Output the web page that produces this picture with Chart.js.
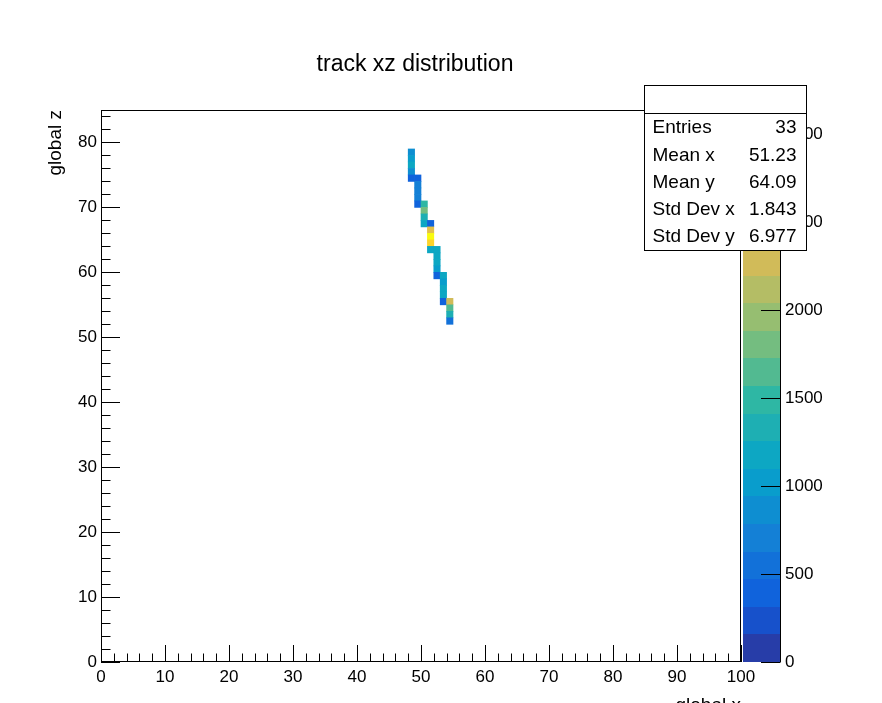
<!DOCTYPE html>
<html>
<head>
<meta charset="utf-8">
<title>track xz distribution</title>
<script src="https://cdn.jsdelivr.net/npm/chart.js@4.4.1/dist/chart.umd.min.js"></script>
<style>
  html, body { margin: 0; padding: 0; background: #fff; }
  canvas { display: block; }
</style>
</head>
<body>
<canvas id="chart" width="882" height="703"></canvas>
<script>
// ===============================================
// data: filled bins (lower edges, bin width 1) and their contents
// ===============================================
const cellX = [48, 48, 48, 48, 48,
               49, 49, 49, 49, 49,
               50, 50, 50, 50,
               51, 51, 51, 51, 51,
               52, 52, 52, 52, 52,
               53, 53, 53, 53, 53,
               54, 54, 54, 54];
const cellZ = [78, 77, 76, 75, 74,
               74, 73, 72, 71, 70,
               70, 69, 68, 67,
               67, 66, 65, 64, 63,
               63, 62, 61, 60, 59,
               59, 58, 57, 56, 55,
               55, 54, 53, 52];
const cellContent = [850, 1000, 1250, 800, 400,
                     420, 650, 700, 650, 380,
                     1550, 1850, 1300, 1150,
                     450, 2450, 3140, 2700, 1150,
                     1200, 1100, 1100, 1050, 400,
                     1100, 1050, 1250, 1100, 400,
                     2300, 1600, 1350, 500];

const xRange = [0, 100];
const zRange = [0, 85];
const colorMax = 3140;
const nContours = 20;
const xTickStep = 10;
const zTickStep = 10;
const colorTicks = [0, 500, 1000, 1500, 2000, 2500, 3000];

const statLabels = ['Entries', 'Mean x', 'Mean y', 'Std Dev x', 'Std Dev y'];
const statValues = ['33', '51.23', '64.09', '1.843', '6.977'];

// kBird palette stops
const birdStops = [0.0, 0.125, 0.25, 0.375, 0.5, 0.625, 0.75, 0.875, 1.0];
const birdRed   = [0.2082, 0.0592, 0.0780, 0.0232, 0.1802, 0.5301, 0.8186, 0.9956, 0.9764];
const birdGreen = [0.1664, 0.3599, 0.5041, 0.6419, 0.7178, 0.7492, 0.7328, 0.7862, 0.9832];
const birdBlue  = [0.5293, 0.8684, 0.8385, 0.7914, 0.6425, 0.4662, 0.3499, 0.1968, 0.0539];

const FONT = "'Liberation Sans', Arial, sans-serif";

function birdColor(t) {
  t = Math.min(1, Math.max(0, t));
  let i = 0;
  while (i < birdStops.length - 2 && t > birdStops[i + 1]) i++;
  const f = (t - birdStops[i]) / (birdStops[i + 1] - birdStops[i]);
  const c = k => Math.round(255 * (k[i] + (k[i + 1] - k[i]) * f));
  return `rgb(${c(birdRed)},${c(birdGreen)},${c(birdBlue)})`;
}
function bandColor(band) {
  const idx = Math.min(254, Math.floor((band + 0.99) * 255 / nContours));
  return birdColor(idx / 254);
}
function contentColor(v) {
  const band = Math.min(nContours - 1, Math.floor(0.01 + v * nContours / colorMax));
  return bandColor(band);
}

// ===============================================
// frame, inward ticks, colour bar and stats box
// ===============================================
const rootFrame = {
  id: 'rootFrame',
  afterDraw(chart) {
    const { ctx, chartArea: a, scales } = chart;
    const xs = scales.x, ys = scales.y, cs = scales.c;
    ctx.save();

    // colour bar
    const step = colorMax / nContours;
    for (let i = 0; i < nContours; i++) {
      const top = Math.round(cs.getPixelForValue((i + 1) * step));
      const bot = Math.round(cs.getPixelForValue(i * step));
      ctx.fillStyle = bandColor(i);
      ctx.fillRect(a.right + 2, top, 37, bot - top);
    }
    ctx.strokeStyle = '#000';
    ctx.lineWidth = 1;
    ctx.beginPath();
    ctx.moveTo(a.right + 39.5, a.top);
    ctx.lineTo(a.right + 39.5, a.bottom);
    colorTicks.forEach(v => {
      const py = Math.round(cs.getPixelForValue(v)) + 0.5;
      ctx.moveTo(a.right + 39.5, py);
      ctx.lineTo(a.right + 20, py);
    });
    ctx.stroke();

    // frame
    ctx.strokeRect(a.left + 0.5, a.top + 0.5, a.width - 1, a.height - 1);

    // ticks pointing into the plot
    ctx.beginPath();
    for (let v = xRange[0]; v <= xRange[1]; v += xTickStep / 5) {
      const px = Math.round(xs.getPixelForValue(v)) + 0.5;
      const len = v % xTickStep === 0 ? 17 : 8.5;
      ctx.moveTo(px, a.bottom);
      ctx.lineTo(px, a.bottom - len);
    }
    for (let v = zRange[0]; v <= zRange[1]; v += zTickStep / 5) {
      const py = Math.round(ys.getPixelForValue(v)) + 0.5;
      const len = v % zTickStep === 0 ? 19 : 9.5;
      ctx.moveTo(a.left, py);
      ctx.lineTo(a.left + len, py);
    }
    ctx.stroke();

    // stats box
    const bx = 644.5, by = 85.5, bw = 162, bh = 165;
    ctx.fillStyle = '#fff';
    ctx.fillRect(bx, by, bw, bh);
    ctx.strokeRect(bx, by, bw, bh);
    ctx.beginPath();
    ctx.moveTo(bx, by + 28);
    ctx.lineTo(bx + bw, by + 28);
    ctx.stroke();
    ctx.fillStyle = '#000';
    ctx.font = '19px ' + FONT;
    ctx.textBaseline = 'middle';
    statLabels.forEach((lab, i) => {
      const ty = 128 + i * 27.3;
      ctx.textAlign = 'left';
      ctx.fillText(lab, bx + 8, ty);
      ctx.textAlign = 'right';
      ctx.fillText(statValues[i], bx + bw - 10, ty);
    });
    ctx.restore();
  }
};

document.addEventListener('DOMContentLoaded', () => {
  const ctx = document.getElementById('chart');

  const cells = cellX.map((x, i) => ({ x: x + 0.5, y: [cellZ[i], cellZ[i] + 1] }));
  const tickFont = { family: FONT, size: 17 };

  new Chart(ctx, {
    type: 'bar',
    data: {
      datasets: [{
        label: 'track xz',
        data: cells,
        backgroundColor: c => contentColor(cellContent[c.dataIndex]),
        borderWidth: 0,
        barPercentage: 1,
        categoryPercentage: 1,
        grouped: false
      }]
    },
    options: {
      responsive: false,
      animation: false,
      layout: { padding: { left: 0, right: 52, top: 0, bottom: 0 } },
      plugins: {
        legend: { display: false },
        tooltip: { enabled: false },
        title: {
          display: true,
          text: 'track xz distribution',
          color: '#000',
          font: { family: FONT, size: 23, weight: 'normal', lineHeight: 1 },
          padding: { top: 53.5, bottom: 33.5 }
        }
      },
      scales: {
        x: {
          type: 'linear',
          min: xRange[0], max: xRange[1],
          offset: false,
          grid: { display: false, offset: false, drawTicks: false },
          border: { display: false },
          ticks: { stepSize: xTickStep, padding: 5, color: '#000', font: tickFont, maxRotation: 0, autoSkip: false },
          title: {
            display: true, text: 'global x', align: 'end', color: '#000',
            font: { family: FONT, size: 19 }, padding: { top: 0, bottom: -14 }
          },
          afterFit: s => { s.height = 41; }
        },
        y: {
          type: 'linear',
          position: 'left',
          min: zRange[0], max: zRange[1],
          grid: { display: false, drawTicks: false },
          border: { display: false },
          ticks: { stepSize: zTickStep, padding: 4, color: '#000', font: tickFont, autoSkip: false },
          afterBuildTicks: s => { s.ticks = s.ticks.filter(t => t.value % zTickStep === 0); },
          title: {
            display: true, text: 'global z', align: 'end', color: '#000',
            font: { family: FONT, size: 19 }, padding: { top: 44, bottom: 0 }
          },
          afterFit: s => { s.width = 101; }
        },
        c: {
          type: 'linear',
          position: 'right',
          min: 0, max: colorMax,
          grid: { display: false, tickLength: 40 },
          border: { display: false },
          ticks: { padding: 4, color: '#000', font: tickFont, autoSkip: false,
                   callback: v => String(v) },
          afterBuildTicks: s => { s.ticks = colorTicks.map(value => ({ value })); },
          afterFit: s => { s.width = 89; }
        }
      }
    },
    plugins: [rootFrame]
  });
});
</script>
</body>
</html>
